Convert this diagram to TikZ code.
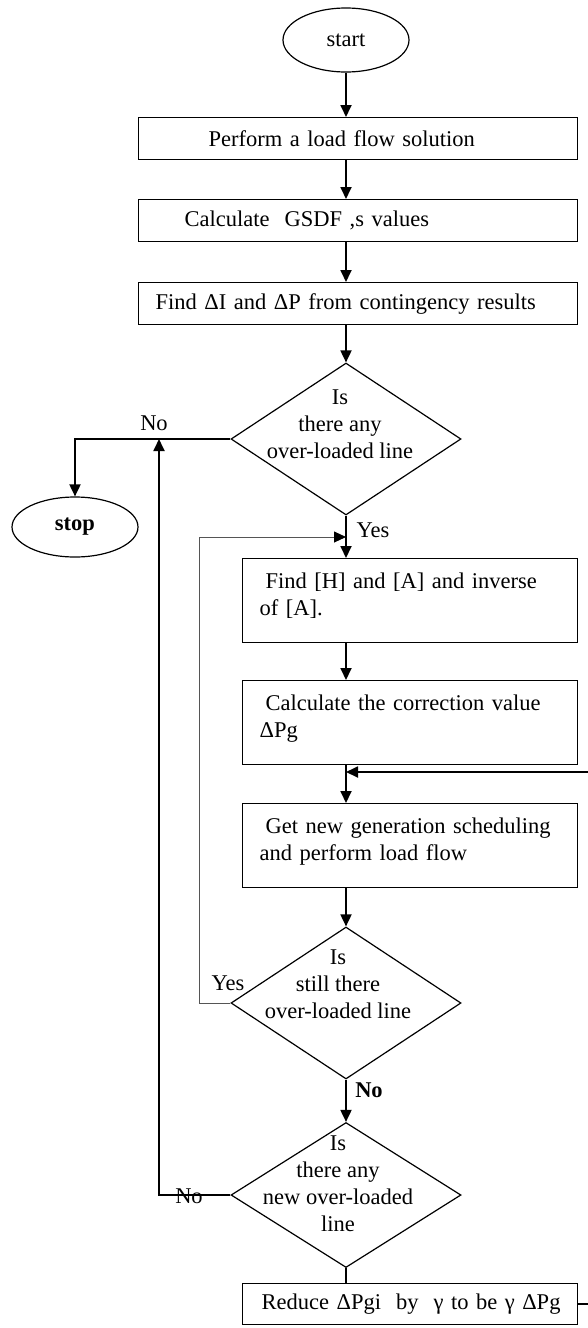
\documentclass[tikz,border=0pt]{standalone}
\usepackage{fontspec}
\setmainfont{Liberation Serif}
\usetikzlibrary{shapes.geometric,arrows.meta}
\definecolor{loopgray}{HTML}{555555}

\tikzset{
  terminal/.style={draw, ellipse, line width=1.2pt, minimum width=126pt, inner sep=0pt},
  procbox/.style={draw, rectangle, line width=1.4pt, anchor=north west, inner xsep=17pt, inner ysep=0pt, align=left, minimum height=42pt},
  widebox/.style={procbox, text width=405pt},
  narrowbox/.style={procbox, text width=301pt},
  twoline/.style={minimum height=84pt, text height=30pt, text depth=54pt},
  decision/.style={draw, diamond, line width=1.2pt, minimum width=230pt, minimum height=152pt, inner sep=0pt},
  flow/.style={line width=1.8pt, -{Triangle[length=12pt,width=11pt]}},
  plainflow/.style={line width=1.8pt},
  loopflow/.style={line width=0.9pt, loopgray, -{Triangle[length=12pt,width=11pt,black]}}
}

\begin{document}
\begin{tikzpicture}[x=1pt, y=-1pt, font=\fontsize{22.5}{27}\selectfont]
\useasboundingbox (0,0) rectangle (588,1328);
\coordinate (axis) at (346,0);
% Start / Stop Terminals
\node[terminal, minimum height=64pt] (start) at (346,40) {start};
\node[terminal, minimum height=60pt] (stop) at (75,527) {\textbf{stop}};
% Upper Process Boxes
\node[widebox] (box1) at (138,117) {\hspace*{53pt}Perform a load flow solution};
\node[widebox] (box2) at (138,199) {\hspace*{29pt}Calculate\ \ GSDF ,s values};
\node[widebox] (box3) at (138,282) {Find ΔI and ΔP from contingency results};
% First Decision
\node[decision] (d1) at (346,439) {};
\node[align=center] (d1txt) at (340,424) {Is\\there any\\over-loaded line};
% Correction Loop Boxes
\node[narrowbox, twoline] (box4) at (242,558) {\hspace*{6pt}Find [H] and [A] and inverse\\of [A].};
\node[narrowbox, twoline] (box5) at (242,680) {\hspace*{6pt}Calculate the correction value\\ΔPg};
\node[narrowbox, twoline] (box6) at (242,803) {\hspace*{6pt}Get new generation scheduling\\and perform load flow};
% Lower Decisions
\node[decision] (d2) at (346,1003) {};
\node[align=center] (d2txt) at (338,984) {Is\\still there\\over-loaded line};
\node[decision, minimum height=145pt] (d3) at (346,1195) {};
\node[align=center] (d3txt) at (338,1184) {Is\\there any\\new over-loaded\\line};
% Reduction Box
\node[narrowbox, minimum height=41pt] (box7) at (242,1283) {\hspace*{2pt}Reduce ΔPgi\ \ by\ \ γ to be γ ΔPg};
% Branch Labels
\node (lblno1) at (154,423) {No};
\node (lblyes1) at (373,530) {Yes};
\node (lblyes2) at (228,983) {Yes};
\node (lblno2) at (369,1090) {\textbf{No}};
\node (lblno3) at (189,1196) {No};
% Main Vertical Flow
\foreach \a/\b in {start/box1,box1/box2,box2/box3,box3/d1,d1/box4,box4/box5,box5/box6,box6/d2,d2/d3}
  \draw[flow] (\a.south -| axis) -- (\b.north -| axis);
\draw[plainflow] (d3.south) -- (box7.north -| axis);
% Side Branches
\coordinate (upx) at (159,0);
\coordinate (yesin) at (346,537);
\coordinate (merge) at (346,772);
\draw[flow] (d1.west) -| (stop.north);
\draw[flow] (d3.west) -| (upx |- d1.west);
\draw[loopflow] (d2.west) -- ++(-31,0) |- (yesin);
\draw[flow] (box7.east) -- ++(13,0) |- (merge);
\end{tikzpicture}
\end{document}
